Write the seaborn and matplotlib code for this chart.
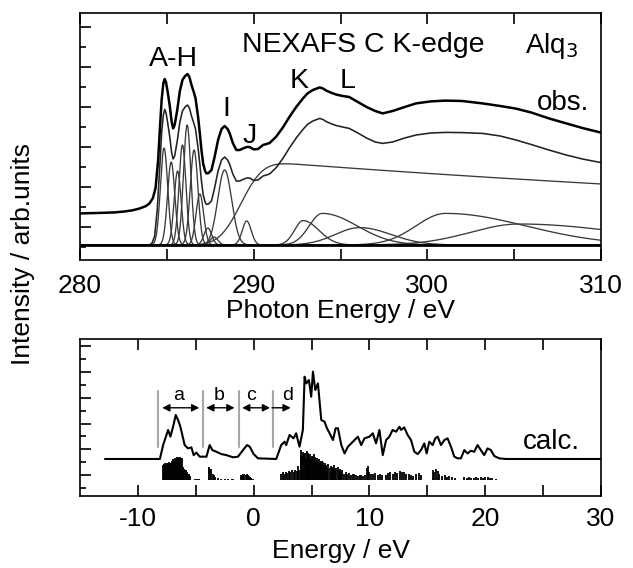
import numpy as np
import pandas as pd
import matplotlib
matplotlib.use("Agg")
import matplotlib.pyplot as plt
import seaborn as sns
from math import erf

# ---------------- top panel: NEXAFS C K-edge ----------------
obs_energy = [280.0, 281.0, 282.0, 282.5, 283.0, 283.45, 283.8, 284.0, 284.2, 284.35,
              284.5, 284.6, 284.7, 284.8, 284.88, 284.95, 285.05, 285.17, 285.28, 285.36,
              285.45, 285.6, 285.75, 285.9, 286.05, 286.19, 286.3, 286.42, 286.55, 286.65,
              286.8, 286.9, 287.0, 287.09, 287.2, 287.28, 287.4, 287.57, 287.75, 287.95,
              288.15, 288.33, 288.5, 288.62, 288.8, 289.0, 289.2, 289.39, 289.6, 289.77,
              290.0, 290.25, 290.54, 290.92, 291.3, 291.7, 292.07, 292.45, 292.84, 293.1,
              293.41, 293.8, 294.0, 294.18, 294.5, 294.76, 295.07, 295.5, 296.0, 296.5,
              297.0, 297.43, 298.0, 298.7, 299.35, 300.2, 301.07, 302.0, 303.18, 304.2,
              305.1, 306.0, 307.0, 308.0, 308.93, 310.0]
obs_intensity = [1.68, 1.70, 1.73, 1.77, 1.83, 1.93, 2.05, 2.18, 2.45, 2.95,
                 4.35, 5.9, 7.35, 8.2, 8.4, 8.25, 7.75, 7.05, 6.25, 5.93,
                 6.1, 6.85, 7.8, 8.35, 8.55, 8.65, 8.5, 8.1, 7.75, 7.45,
                 6.5, 5.68, 4.8, 4.18, 3.8, 3.68, 3.7, 3.85, 4.5, 5.35,
                 5.9, 6.05, 5.9, 5.68, 5.2, 4.85, 4.85, 4.93, 5.0, 5.0,
                 4.88, 4.9, 5.1, 5.2, 5.52, 6.0, 6.52, 7.0, 7.43, 7.68,
                 7.85, 7.98, 7.92, 7.82, 7.7, 7.62, 7.56, 7.5, 7.25, 7.0,
                 6.8, 6.68, 6.8, 7.0, 7.18, 7.28, 7.32, 7.3, 7.18, 7.05,
                 6.92, 6.72, 6.43, 6.18, 5.95, 5.72]

fit_energy = [280.0, 284.0, 284.15, 284.3, 284.45, 284.6, 284.7, 284.8, 284.88, 284.95,
              285.05, 285.17, 285.28, 285.36, 285.45, 285.6, 285.75, 285.9, 286.05, 286.19,
              286.3, 286.42, 286.55, 286.65, 286.8, 286.9, 287.0, 287.09, 287.2, 287.28,
              287.4, 287.57, 287.75, 287.95, 288.15, 288.33, 288.5, 288.62, 288.8, 289.0,
              289.2, 289.39, 289.6, 289.77, 290.0, 290.25, 290.54, 290.92, 291.3, 291.7,
              292.07, 292.45, 292.84, 293.1, 293.41, 293.8, 294.0, 294.18, 294.5, 294.76,
              295.07, 295.5, 296.0, 296.5, 297.0, 297.43, 298.0, 298.7, 299.35, 300.2,
              301.07, 302.0, 303.18, 304.2, 305.1, 306.0, 307.0, 308.0, 308.93, 310.0]
fit_intensity = [0.1, 0.1, 0.2, 0.55, 1.9, 4.1, 5.7, 6.6, 6.88, 6.72,
                 6.2, 5.5, 4.7, 4.4, 4.55, 5.3, 6.25, 6.8, 7.0, 7.1,
                 6.95, 6.55, 6.2, 5.9, 4.95, 4.13, 3.25, 2.63, 2.25, 2.13,
                 2.15, 2.3, 2.95, 3.8, 4.35, 4.5, 4.35, 4.13, 3.65, 3.3,
                 3.3, 3.38, 3.45, 3.45, 3.33, 3.35, 3.55, 3.65, 3.97, 4.45,
                 4.97, 5.45, 5.88, 6.13, 6.3, 6.43, 6.37, 6.27, 6.15, 6.07,
                 6.01, 5.93, 5.7, 5.45, 5.25, 5.18, 5.25, 5.45, 5.6, 5.7,
                 5.73, 5.72, 5.68, 5.55, 5.35, 5.12, 4.85, 4.6, 4.4, 4.22]

peak_names = ["A", "B", "C", "D", "E", "F", "G", "H", "H2", "I", "J", "K1", "K2", "L", "M", "N"]
peak_center = [284.84, 285.25, 285.62, 285.9, 286.17, 286.57, 286.9, 287.36, 287.72,
               288.33, 289.6, 292.85, 293.95, 296.1, 301.05, 305.3]
peak_height = [4.85, 4.15, 3.7, 5.0, 6.0, 4.75, 2.55, 0.85, 0.4,
               3.75, 1.2, 1.22, 1.58, 0.87, 1.58, 1.05]
peak_sigma_left = [0.21, 0.21, 0.2, 0.2, 0.21, 0.22, 0.22, 0.22, 0.22,
                   0.4, 0.26, 0.5, 0.75, 1.4, 1.7, 2.8]
peak_sigma_right = [0.21, 0.21, 0.2, 0.2, 0.21, 0.22, 0.22, 0.22, 0.22,
                    0.4, 0.26, 0.9, 2.0, 1.8, 4.6, 6.0]

step_center = 289.3
step_width = 1.4
step_height = 4.25
step_decay = 0.016
base_level = 0.1

top_labels = ["A-H", "I", "J", "K", "L"]
top_label_x = [285.4, 288.43, 289.77, 292.6, 295.42]
top_label_y = [9.4, 6.9, 5.55, 8.3, 8.3]

# ---------------- bottom panel: calculation ----------------
calc_energy = [-12.84, -8.1, -7.82, -7.39, -7.19, -6.96, -6.73, -6.53, -6.33, -5.96,
               -5.67, -5.38, -5.18, -4.95, -4.66, -4.08, -3.8, -3.57, -3.22, -2.79,
               -2.36, -1.78, -1.35, -0.92, -0.57, -0.34, 0.0, 0.37, 1.95, 2.38,
               2.67, 2.81, 3.1, 3.44, 3.67, 3.96, 4.25, 4.4, 4.54, 4.77,
               4.97, 5.12, 5.32, 5.55, 5.84, 6.12, 6.33, 6.56, 6.85, 7.08,
               7.28, 7.57, 7.85, 8.14, 8.57, 9.0, 9.29, 9.57, 10.0, 10.29,
               10.57, 10.86, 11.15, 11.44, 11.72, 12.0, 12.3, 12.59, 12.73, 13.0,
               13.3, 13.59, 13.88, 14.17, 14.45, 14.74, 14.94, 15.17, 15.46, 15.69,
               15.89, 16.18, 16.47, 16.75, 17.04, 17.33, 17.62, 17.9, 18.19, 18.48,
               18.76, 19.05, 19.34, 19.62, 19.91, 20.2, 20.49, 20.78, 21.21, 21.78, 30.0]
calc_intensity = [2.25, 2.25, 3.33, 4.5, 3.98, 4.75, 5.66, 5.27, 4.75, 3.33,
                  3.07, 3.15, 2.55, 2.74, 2.43, 2.43, 3.33, 2.94, 2.81, 2.63,
                  2.55, 2.38, 2.43, 2.94, 3.33, 3.2, 2.63, 2.3, 2.25, 3.33,
                  3.59, 3.33, 4.11, 3.85, 4.24, 3.2, 4.5, 8.63, 8.11, 8.37,
                  7.08, 9.02, 7.6, 8.11, 5.27, 5.14, 4.63, 4.24, 3.72, 4.63,
                  4.63, 3.33, 2.68, 3.2, 3.59, 3.98, 3.33, 3.85, 3.98, 4.24,
                  3.46, 4.5, 2.55, 3.72, 3.98, 4.5, 4.37, 4.75, 4.5, 4.7,
                  4.11, 3.72, 2.81, 2.63, 2.94, 3.46, 2.68, 3.59, 3.33, 3.85,
                  3.98, 3.33, 3.72, 3.85, 3.2, 2.43, 2.3, 2.3, 2.94, 2.68,
                  2.89, 2.81, 3.33, 2.94, 2.55, 3.07, 2.94, 2.48, 2.3, 2.25, 2.25]

stick_base = 0.62
stick_energy = [-7.85, -7.78, -7.7, -7.62, -7.55, -7.47, -7.4, -7.32, -7.25, -7.17, -7.1, -7.02,
                -6.95, -6.88, -6.8, -6.72, -6.65, -6.58, -6.5, -6.43, -6.35, -6.28, -6.2,
                -6.12, -6.05, -5.97, -5.9, -5.82, -5.75, -5.67, -5.6, -5.52, -5.1, -4.9, -4.75,
                -3.9, -3.82, -3.75, -3.65, -3.55, -3.45, -3.35, -3.1, -2.8, -2.5, -2.2, -1.9, -1.75,
                -1.1, -1.0, -0.9, -0.8, -0.7, -0.6, -0.5, -0.4, -0.3, -0.2, -0.05,
                2.4, 2.5, 2.65, 2.8, 2.9, 3.05, 3.15, 3.3, 3.45, 3.55, 3.7, 3.85, 3.95,
                4.05, 4.12, 4.2, 4.28, 4.35, 4.42, 4.5, 4.58, 4.65, 4.72, 4.8, 4.88, 4.95,
                5.02, 5.1, 5.18, 5.25, 5.32, 5.4, 5.48, 5.55, 5.62, 5.7, 5.78, 5.85, 5.92,
                6.0, 6.08, 6.15, 6.25, 6.35, 6.45, 6.55, 6.65, 6.75, 6.85, 6.95, 7.05,
                7.15, 7.25, 7.35, 7.45, 7.55, 7.65,
                7.8, 7.95, 8.1, 8.25, 8.4, 8.55, 8.7, 8.85, 9.0, 9.15, 9.3, 9.45, 9.6,
                9.75, 9.85, 9.95, 10.1, 10.3, 10.5, 10.7, 10.9, 11.1,
                11.4, 11.6, 11.8, 12.0, 12.2, 12.4, 12.6, 12.8, 13.0, 13.2, 13.4, 13.6,
                13.8, 14.0, 14.25, 14.45,
                15.45, 15.6, 15.75, 15.9, 16.0, 16.3, 16.5, 16.7, 16.9, 17.1, 17.4,
                18.2, 18.4, 18.6, 18.8, 19.0, 19.2, 19.4, 19.6, 19.8, 20.0, 20.2, 20.4, 20.6, 20.9]
stick_height = [1.15, 1.25, 1.1, 1.3, 1.2, 1.35, 1.25, 1.4, 1.3, 1.35, 1.2, 1.45,
                1.6, 1.5, 1.7, 1.55, 1.75, 1.65, 1.8, 1.7, 1.75, 1.6, 1.7,
                1.0, 0.85, 0.8, 0.7, 0.75, 0.6, 0.5, 0.45, 0.3, 0.08, 0.06, 0.05,
                0.9, 1.0, 0.8, 0.85, 0.5, 0.4, 0.25, 0.12, 0.1, 0.1, 0.08, 0.1, 0.06,
                0.35, 0.4, 0.45, 0.5, 0.4, 0.45, 0.35, 0.3, 0.2, 0.15, 0.1,
                0.5, 0.6, 0.45, 0.65, 0.55, 0.7, 0.6, 0.75, 0.65, 0.8, 0.7, 1.05, 0.8,
                1.9, 2.3, 1.8, 2.2, 2.0, 2.1, 1.7, 2.25, 1.95, 2.1, 1.8, 2.0, 1.6,
                1.9, 1.75, 2.05, 1.6, 1.8, 1.5, 1.7, 1.4, 1.65, 1.3, 1.5, 1.2, 1.45,
                1.4, 1.1, 1.3, 1.2, 1.0, 1.25, 0.9, 1.1, 1.0, 0.85, 1.15, 0.8,
                0.95, 1.0, 0.7, 0.85, 0.6, 0.75,
                0.5, 0.6, 0.45, 0.55, 0.4, 0.45, 0.5, 0.35, 0.3, 0.4, 0.35, 0.3, 0.35,
                0.95, 1.05, 0.6, 0.45, 0.5, 0.55, 0.4, 0.5, 0.35,
                0.4, 0.55, 0.6, 0.5, 0.65, 0.55, 0.7, 0.6, 0.65, 0.5, 0.45, 0.4,
                0.3, 0.45, 0.55, 0.4,
                0.8, 0.6, 0.85, 0.7, 0.5, 0.3, 0.35, 0.25, 0.3, 0.2, 0.15,
                0.2, 0.15, 0.2, 0.18, 0.15, 0.2, 0.15, 0.22, 0.18, 0.2, 0.25, 0.15, 0.12, 0.08]

region_names = ["a", "b", "c", "d"]
region_divider = [-8.25, -4.37, -1.27, 1.67]
region_arrow_start = [-7.9, -4.1, -1.0, 1.58]
region_arrow_end = [-4.7, -1.65, 1.42, 3.2]
region_two_sided = [True, True, True, False]
region_label_x = [-6.5, -3.0, -0.2, 2.9]

# ---------------- drawing ----------------
sns.set_theme(style="ticks")
plt.rcParams["font.family"] = ["Liberation Sans", "DejaVu Sans"]
plt.rcParams["axes.unicode_minus"] = False
plt.rcParams["axes.linewidth"] = 1.2
for key in ("text.color", "axes.labelcolor", "xtick.color", "ytick.color", "axes.edgecolor"):
    plt.rcParams[key] = "black"

fig = plt.figure(figsize=(6.33, 5.68), dpi=100)
ax1 = fig.add_axes([80 / 633, 1 - 260 / 568, 521 / 633, (260 - 13.3) / 568])
ax2 = fig.add_axes([80 / 633, 1 - 496 / 568, 521 / 633, (496 - 339.3) / 568])

grid = np.linspace(280, 310, 1501)
comp_color = "#3a3a3a"
for c, h, sl, sr in zip(peak_center, peak_height, peak_sigma_left, peak_sigma_right):
    sig = np.where(grid < c, sl, sr)
    g = base_level + h * np.exp(-(grid - c) ** 2 / (2 * sig ** 2))
    sns.lineplot(x=grid, y=g, ax=ax1, color=comp_color, linewidth=0.95,
                 estimator=None, sort=False)

step = np.array([base_level + step_height * 0.5 * (1 + erf((e - step_center) / step_width))
                 * np.exp(-step_decay * (e - step_center)) for e in grid])
sns.lineplot(x=grid, y=step, ax=ax1, color=comp_color, linewidth=0.95, estimator=None, sort=False)

sns.lineplot(x=fit_energy, y=fit_intensity, ax=ax1, color="#222222", linewidth=1.15,
             estimator=None, sort=False)
sns.lineplot(x=obs_energy, y=obs_intensity, ax=ax1, color="black", linewidth=1.8,
             estimator=None, sort=False)
ax1.axhline(base_level, color="black", linewidth=2.0)

ax1.set_xlim(280, 310)
ax1.set_ylim(-0.65, 11.685)
ax1.set_xticks(np.arange(280, 311, 5))
ax1.set_xticklabels(["280", "", "290", "", "300", "", "310"])
ax1.set_yticks(np.arange(1, 12, 2))
ax1.set_yticks(np.arange(0, 11, 2), minor=True)
ax1.set_yticklabels([])
ax1.tick_params(axis="x", which="major", direction="in", top=True, length=8, width=1.2,
                labelsize=19, pad=10)
ax1.tick_params(axis="y", which="major", direction="in", length=8, width=1.2)
ax1.tick_params(axis="y", which="minor", direction="in", length=4.5, width=1.2)
ax1.set_xlabel("Photon Energy / eV", fontsize=19, labelpad=1)
ax1.set_ylabel("")

ax1.text(296.3, 10.1, "NEXAFS C K-edge", fontsize=20.5, ha="center", va="center")
ax1.text(305.6, 10.05, "Alq$_3$", fontsize=20, ha="left", va="center")
ax1.text(307.8, 7.2, "obs.", fontsize=20, ha="center", va="center")
for t, x, y in zip(top_labels, top_label_x, top_label_y):
    ax1.text(x, y, t, fontsize=20.5, ha="center", va="center")

# bottom
ax2.vlines(stick_energy, stick_base, np.array(stick_height) + stick_base,
           color="black", linewidth=1.3)
sns.lineplot(x=calc_energy, y=calc_intensity, ax=ax2, color="black", linewidth=1.5,
             estimator=None, sort=False)
for xd in region_divider:
    ax2.plot([xd, xd], [3.2, 7.52], color="#a8a8a8", linewidth=1.5)
for name, x0, x1, two, xl in zip(region_names, region_arrow_start, region_arrow_end,
                                 region_two_sided, region_label_x):
    style = "<|-|>" if two else "<|-"
    ax2.annotate("", xy=(x0, 6.22), xytext=(x1, 6.22),
                 arrowprops=dict(arrowstyle=style, color="black", lw=1.0,
                                 mutation_scale=11, shrinkA=0, shrinkB=0))
    ax2.text(xl, 7.15, name, fontsize=14, ha="center", va="center")
ax2.text(25.7, 3.6, "calc.", fontsize=20, ha="center", va="center")

ax2.set_xlim(-15, 30)
ax2.set_ylim(-0.62, 11.53)
ax2.set_xticks(np.arange(-10, 31, 5))
ax2.set_xticklabels(["-10", "", "0", "", "10", "", "20", "", "30"])
ax2.set_yticks(np.arange(1, 12, 2))
ax2.set_yticks(np.arange(0, 12, 2), minor=True)
ax2.set_yticklabels([])
ax2.tick_params(axis="x", which="major", direction="in", top=True, length=8, width=1.2,
                labelsize=19, pad=8)
ax2.tick_params(axis="y", which="major", direction="in", length=8, width=1.2)
ax2.tick_params(axis="y", which="minor", direction="in", length=4.5, width=1.2)
ax2.set_xlabel("Energy / eV", fontsize=19, labelpad=6)
ax2.set_ylabel("")

for ax in (ax1, ax2):
    for s in ax.spines.values():
        s.set_visible(True)
        s.set_linewidth(1.2)
        s.set_color("black")

fig.text(23 / 633, 0.552, "Intensity / arb.units", fontsize=19, rotation=90,
         ha="center", va="center")

fig.savefig("out.png", dpi=100, facecolor="white")
